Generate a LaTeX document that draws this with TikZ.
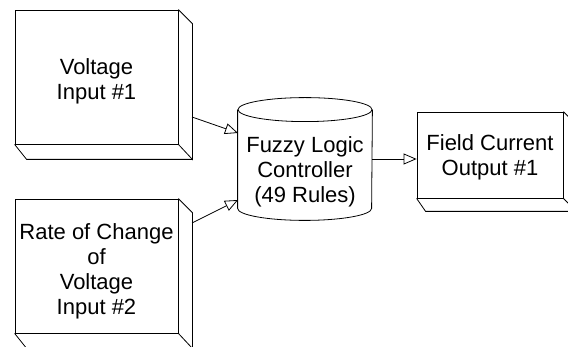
\documentclass[tikz,border=0pt]{standalone}
\usepackage{fontspec}
\setmainfont{Liberation Sans}
\usetikzlibrary{arrows.meta,calc}
\begin{document}
\begin{tikzpicture}[x=1pt,y=-1pt,line width=0.8pt,
  face/.style={draw,rectangle,inner sep=0pt},
  lbl/.style={inner sep=0pt,align=center,font=\fontsize{22}{25}\selectfont},
  arr/.style={-{Triangle[open,length=13pt,width=11pt]}}]
\useasboundingbox (0,0) rectangle (568,347);
\clip (0,0) rectangle (568,347);
% box 1
\node[face,minimum width=163pt,minimum height=134pt] (b1) at (96.5,77) {};
\node[lbl] (b1t) at (96.5,81) {Voltage\\Input \#1};
\draw (b1.north east) -- ++(14,14) -- ($(b1.south east)+(14,15)$) -- (b1.south east);
\draw (b1.south west) -- ++(12,15) -- ($(b1.south east)+(14,15)$);
% box 2
\node[face,minimum width=163pt,minimum height=134pt] (b2) at (96.5,266) {};
\node[lbl] (b2t) at (96.5,271) {Rate of Change\\of\\Voltage\\Input \#2};
\draw (b2.north east) -- ++(14,14) -- ($(b2.south east)+(14,15)$) -- (b2.south east);
\draw (b2.south west) -- ++(12,15) -- ($(b2.south east)+(14,15)$);
% box 3
\node[face,minimum width=146pt,minimum height=86pt] (b3) at (490,155) {};
\node[lbl] (b3t) at (490,157) {Field Current\\Output \#1};
\draw (b3.north east) -- ++(13,13) -- ($(b3.south east)+(13,13)$) -- (b3.south east);
\draw (b3.south west) -- ++(9,13) -- ($(b3.south east)+(13,13)$);
% cylinder
\node[inner sep=0pt,minimum width=134pt,minimum height=98pt] (flc) at (305,159) {};
\draw (flc.north west) -- (flc.south west) arc[start angle=180,end angle=360,x radius=67pt,y radius=12pt] -- (flc.north east);
\draw (flc.north) ellipse[x radius=67pt,y radius=12pt];
\node[lbl] (flct) at (305,172) {Fuzzy Logic\\Controller\\(49 Rules)};
% connectors
\coordinate (o1) at (192,117);
\coordinate (i1) at (238,133);
\coordinate (o2) at (192,223);
\coordinate (i2) at (238,200);
\draw[arr] (o1) -- (i1);
\draw[arr] (o2) -- (i2);
\draw[arr] (flc.east) -- (flc.east -| b3.west);
\end{tikzpicture}
\end{document}
